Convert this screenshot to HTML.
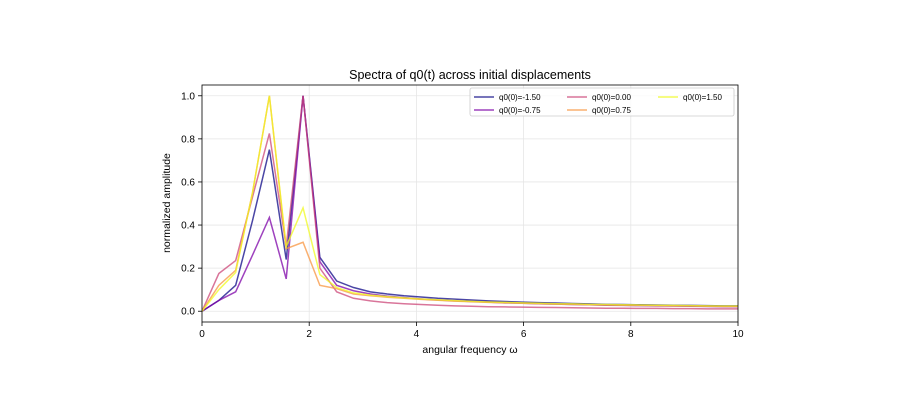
<!DOCTYPE html>
<html><head><meta charset="utf-8"><style>
body{margin:0;background:#fff;}
svg text{font-family:"Liberation Sans","DejaVu Sans",sans-serif;fill:#000;}
</style></head><body>
<svg id="chart" width="900" height="400">
<rect width="900" height="400" fill="#fff"/>
<text x="470" y="79" font-size="12.5" text-anchor="middle">Spectra of q0(t) across initial displacements</text>
<g id="grid"></g><g id="series"></g><g id="axes"></g><g id="legend"></g>
<text x="470" y="353" font-size="10.5" text-anchor="middle">angular frequency ω</text>
<text transform="translate(170,203) rotate(-90)" font-size="10.5" text-anchor="middle">normalized amplitude</text>
</svg>
<script>
const omega=[0,0.314,0.628,0.942,1.257,1.571,1.885,2.199,2.513,2.827,3.142,3.456,3.770,4.084,4.398,4.712,5.027,5.341,5.655,5.969,6.283,6.597,6.912,7.226,7.540,7.854,8.168,8.482,8.796,9.111,9.425,9.739,10.0];
const labels=["q0(0)=-1.50","q0(0)=-0.75","q0(0)=0.00","q0(0)=0.75","q0(0)=1.50"];
const sBlue=[0,0.05,0.12,0.42,0.75,0.24,1.0,0.25,0.14,0.11,0.09,0.08,0.072,0.066,0.06,0.056,0.052,0.048,0.045,0.042,0.04,0.038,0.036,0.034,0.032,0.031,0.03,0.029,0.028,0.027,0.026,0.025,0.025];
const sPurple=[0,0.05,0.09,0.26,0.435,0.15,1.0,0.23,0.12,0.095,0.08,0.07,0.063,0.057,0.052,0.048,0.045,0.042,0.039,0.037,0.035,0.033,0.031,0.03,0.028,0.027,0.026,0.025,0.024,0.023,0.022,0.021,0.021];
const sPink=[0,0.175,0.235,0.53,0.825,0.3,1.0,0.2,0.09,0.06,0.048,0.04,0.035,0.031,0.028,0.025,0.023,0.021,0.02,0.019,0.018,0.017,0.016,0.015,0.014,0.014,0.013,0.013,0.012,0.012,0.011,0.011,0.011];
const sOrange=[0,0.12,0.19,0.55,1.0,0.29,0.32,0.12,0.105,0.08,0.072,0.065,0.06,0.055,0.051,0.047,0.044,0.041,0.039,0.037,0.035,0.033,0.032,0.03,0.029,0.028,0.027,0.026,0.025,0.024,0.023,0.022,0.022];
const sYellow=[0,0.1,0.18,0.55,1.0,0.3,0.48,0.17,0.11,0.085,0.075,0.068,0.062,0.057,0.053,0.049,0.046,0.043,0.041,0.039,0.037,0.035,0.034,0.032,0.031,0.03,0.029,0.028,0.027,0.026,0.025,0.024,0.024];
const xTicks=[0,2,4,6,8,10];
const yTicks=[0.0,0.2,0.4,0.6,0.8,1.0];
const colors=["#0d0887","#7e03a8","#cc4778","#f89540","#f0f921"];
const L=202,R=738,T=85,B=322;
const X=v=>L+(v-0)/(10-0)*(R-L);
const Y=v=>B-(v+0.05)/(1.1)*(B-T);
const NS="http://www.w3.org/2000/svg";
function mk(tag,attrs,parent){const e=document.createElementNS(NS,tag);for(const k in attrs)e.setAttribute(k,attrs[k]);parent.appendChild(e);return e;}
const grid=document.getElementById('grid'),axes=document.getElementById('axes'),ser=document.getElementById('series'),leg=document.getElementById('legend');
xTicks.forEach(t=>{const l=mk('line',{x1:X(t),x2:X(t),y1:T,y2:B,stroke:'#e6e6e6','stroke-width':0.8},grid);

const tk=mk('line',{x1:X(t),x2:X(t),y1:B,y2:B+4,stroke:'#000','stroke-width':0.8},axes);

const tx=mk('text',{x:X(t),y:B+15,'font-size':10,'text-anchor':'middle'},axes);tx.textContent=t;
});
yTicks.forEach(t=>{const l=mk('line',{x1:L,x2:R,y1:Y(t),y2:Y(t),stroke:'#e6e6e6','stroke-width':0.8},grid);

const tk=mk('line',{x1:L-4,x2:L,y1:Y(t),y2:Y(t),stroke:'#000','stroke-width':0.8},axes);

const tx=mk('text',{x:L-7,y:Y(t)+3.5,'font-size':10,'text-anchor':'end'},axes);tx.textContent=t.toFixed(1);
});
const fr=mk('rect',{x:L,y:T,width:R-L,height:B-T,fill:'none',stroke:'#000','stroke-width':0.8},axes);

const all=[sBlue,sPurple,sPink,sOrange,sYellow];
const clip=mk('clipPath',{id:'pc'},ser);mk('rect',{x:L,y:T,width:R-L,height:B-T},clip);
all.forEach((s,i)=>{const d=s.map((v,j)=>(j?'L':'M')+X(omega[j]).toFixed(2)+','+Y(v).toFixed(2)).join('');
const p=mk('path',{d:d,fill:'none',stroke:colors[i],'stroke-opacity':0.75,'stroke-width':1.5,'clip-path':'url(#pc)'},ser);
});
const lb=mk('rect',{x:470,y:88,width:264,height:28,fill:'#fff','fill-opacity':0.8,stroke:'#ccc','stroke-width':0.8,rx:2},leg);

const pos=[[474,97],[474,110],[567,97],[567,110],[658,97]];
labels.forEach((t,i)=>{const [x,y]=pos[i];
const ln=mk('line',{x1:x,x2:x+20,y1:y,y2:y,stroke:colors[i],'stroke-opacity':0.75,'stroke-width':1.5},leg);

const tx=mk('text',{x:x+25,y:y+3,'font-size':8},leg);tx.textContent=t;
});
</script>
</body></html>
